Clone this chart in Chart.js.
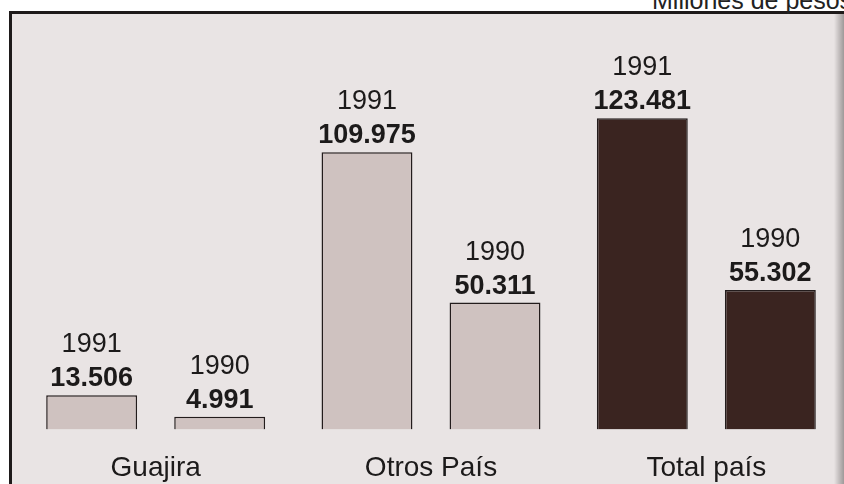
<!DOCTYPE html>
<html>
<head>
<meta charset="utf-8">
<script src="https://cdn.jsdelivr.net/npm/chart.js@4/dist/chart.umd.min.js"></script>
<style>
  html, body { margin: 0; padding: 0; background: #fff; overflow: hidden; }
  #wrap { position: relative; width: 844px; height: 484px; overflow: hidden; }
  #frame {
    position: absolute; left: 9px; top: 11px; width: 900px; height: 500px;
    border-left: 3px solid #1e1a1a; border-top: 3px solid #1e1a1a;
    background: #e9e4e4;
  }
  #edge {
    position: absolute; left: 834px; top: 14px; width: 10px; height: 470px;
    background: linear-gradient(to right, rgba(200,195,195,0), rgba(150,145,145,0.9));
  }
  #unit {
    position: absolute; left: 652px; top: -12px; white-space: nowrap;
    font: 25px "Liberation Sans", Arial, sans-serif; color: #222; line-height: 24px;
  }
  canvas { position: absolute; left: 0; top: 0; }
</style>
</head>
<body>
<div id="wrap">
  <div id="frame"></div>
  <div id="edge"></div>
  <div id="unit">Millones de pesos</div>
  <canvas id="myChart" width="844" height="503"></canvas>
</div>
<script>
// millones de pesos
const categories = ['Guajira', 'Otros País', 'Total país'];
const years = ['1991', '1990'];
const values1991 = [13.506, 109.975, 123.481];
const values1990 = [4.991, 50.311, 55.302];
const valueLabels1991 = ['13.506', '109.975', '123.481'];
const valueLabels1990 = ['4.991', '50.311', '55.302'];

const light = '#cfc2c0';
const dark = '#3a2420';
const fills = [light, light, dark];

// writes year + value above each bar
const barLabels = {
  id: 'barLabels',
  afterDatasetsDraw(chart) {
    const ctx = chart.ctx;
    ctx.save();
    ctx.textAlign = 'center';
    ctx.textBaseline = 'alphabetic';
    ctx.fillStyle = '#1c1a1a';
    chart.data.datasets.forEach((ds, i) => {
      const meta = chart.getDatasetMeta(i);
      meta.data.forEach((bar, j) => {
        ctx.font = '27px "Liberation Sans", Arial, sans-serif';
        ctx.fillText(ds.label, bar.x, bar.y - 43);
        ctx.font = 'bold 27px "Liberation Sans", Arial, sans-serif';
        ctx.fillText(ds.valueLabels[j], bar.x, bar.y - 9);
      });
    });
    ctx.restore();
  }
};

const data = {
  labels: categories,
  datasets: [
    {
      label: years[0],
      data: values1991,
      valueLabels: valueLabels1991,
      backgroundColor: fills,
      borderColor: '#231c1c',
      borderWidth: 1.5
    },
    {
      label: years[1],
      data: values1990,
      valueLabels: valueLabels1990,
      backgroundColor: fills,
      borderColor: '#231c1c',
      borderWidth: 1.5
    }
  ]
};

const config = {
  type: 'bar',
  data: data,
  options: {
    responsive: false,
    animation: false,
    categoryPercentage: 0.93,
    barPercentage: 0.71,
    layout: { padding: { left: 18, right: 0, top: 11, bottom: 4 } },
    plugins: {
      legend: { display: false },
      tooltip: { enabled: false }
    },
    scales: {
      x: {
        grid: { display: false },
        border: { display: false },
        ticks: {
          color: '#1c1a1a',
          padding: 14,
          font: { family: '"Liberation Sans", Arial, sans-serif', size: 28 }
        }
      },
      y: {
        display: false,
        min: 0,
        max: 166
      }
    }
  },
  plugins: [barLabels]
};

const myChart = new Chart(document.getElementById('myChart'), config);
</script>
</body>
</html>
